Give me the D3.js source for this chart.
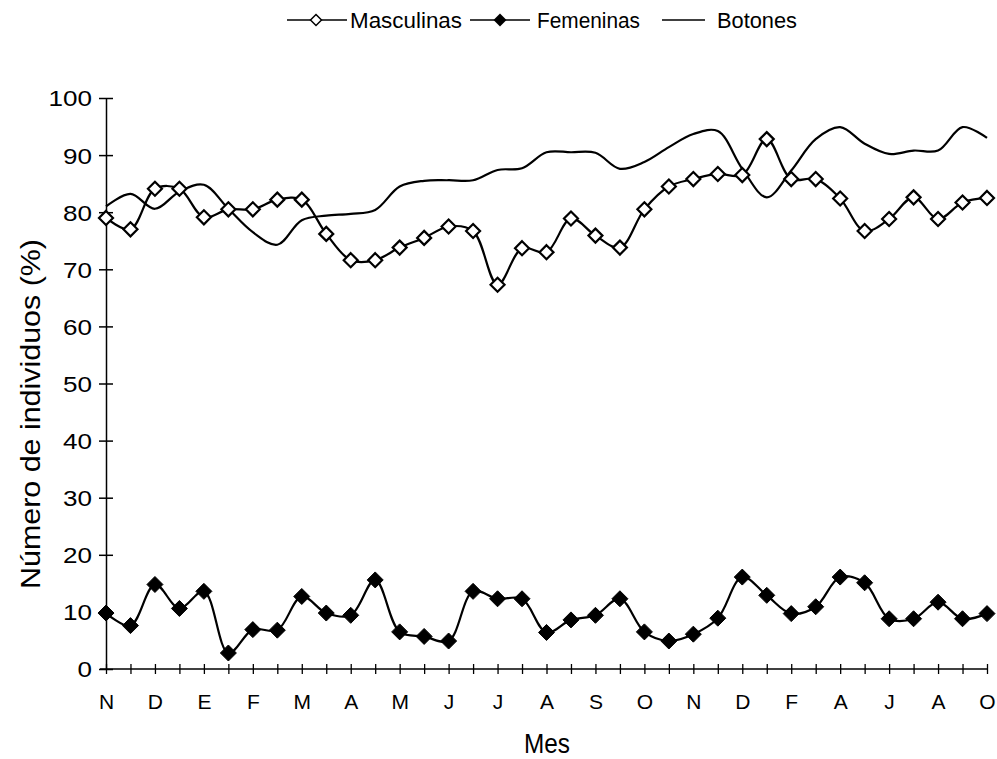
<!DOCTYPE html>
<html>
<head>
<meta charset="utf-8">
<script src="https://cdn.jsdelivr.net/npm/d3@7"></script>
<style>
body{margin:0;background:#fff;}
svg{font-family:"Liberation Sans",Arial,sans-serif;}
</style>
</head>
<body>
<svg id="chart" width="997" height="759"></svg>
<script>
// month labels shown under every second sample
const monthLabels=["N","D","E","F","M","A","M","J","J","A","S","O","N","D","F","A","J","A","O"];
const yTicks=[0,10,20,30,40,50,60,70,80,90,100];

const masculinas=[79,77,84.1,84.1,79.1,80.5,80.5,82.2,82.2,76.2,71.6,71.6,73.8,75.5,77.5,76.7,67.3,73.7,73,78.9,75.9,73.8,80.5,84.5,85.8,86.7,86.5,92.8,85.8,85.8,82.4,76.7,78.8,82.6,78.8,81.7,82.5];
const femeninas=[9.8,7.6,14.8,10.6,13.6,2.8,6.9,6.8,12.7,9.8,9.4,15.6,6.5,5.7,4.9,13.6,12.3,12.3,6.4,8.6,9.4,12.3,6.5,4.9,6.1,8.9,16.1,12.9,9.7,10.9,16.1,15.1,8.8,8.8,11.7,8.8,9.7];
const botones=[81,83.2,80.6,83.6,84.8,80.6,76.5,74.3,78.6,79.4,79.7,80.4,84.5,85.5,85.6,85.6,87.4,87.7,90.5,90.5,90.4,87.6,88.8,91.4,93.7,94.2,87.6,82.6,87.3,92.8,94.9,92,90.2,90.8,90.8,94.9,93];

const svg=d3.select("#chart");
const x=d3.scaleLinear().domain([0,masculinas.length-1]).range([106,987]);
const y=d3.scaleLinear().domain([0,100]).range([669,98]);
const idx=d3.range(masculinas.length);

// axes
const yAxis=svg.append("g").attr("transform","translate(106,0)")
    .call(d3.axisLeft(y).tickValues(yTicks).tickSizeInner(14).tickSizeOuter(0).tickFormat(d3.format("d")));
yAxis.select(".domain").attr("stroke","#000").attr("stroke-width",1.5);
yAxis.selectAll(".tick line").attr("x2",7).attr("x1",-7).attr("stroke-width",1.5);
yAxis.selectAll(".tick text").attr("x",-14).attr("dy","0.36em").attr("font-size",22).attr("fill","#000")
    .attr("textLength",d=>String(d).length*14.5).attr("lengthAdjust","spacingAndGlyphs");

const xAxis=svg.append("g").attr("transform","translate(0,669)")
    .call(d3.axisBottom(x).tickValues(idx).tickSizeInner(5).tickSizeOuter(0)
        .tickFormat(i=>i%2===0?monthLabels[i/2]:""));
xAxis.select(".domain").attr("d","M100,0H988").attr("stroke-width",1.5);
xAxis.selectAll(".tick line").attr("y1",-5).attr("y2",5).attr("stroke-width",1.3);
xAxis.selectAll(".tick text").attr("y",25).attr("font-size",21).attr("fill","#000");

// axis titles
svg.append("text").attr("x",547).attr("y",753).attr("text-anchor","middle")
    .attr("font-size",27).attr("textLength",46).attr("lengthAdjust","spacingAndGlyphs").text("Mes");
svg.append("text").attr("transform","translate(40,414) rotate(-90)").attr("text-anchor","middle")
    .attr("font-size",28).attr("textLength",350).attr("lengthAdjust","spacingAndGlyphs").text("Número de individuos (%)");

// lines
const line=d3.line().x((d,i)=>x(i)).y(d=>y(d)).curve(d3.curveCatmullRom.alpha(0.5));
[botones,masculinas,femeninas].forEach(s=>{
    svg.append("path").datum(s).attr("d",line).attr("fill","none").attr("stroke","#000").attr("stroke-width",2.2);
});

const diamond=r=>`M0,${-r}L${r},0L0,${r}L${-r},0Z`;
svg.selectAll(".m").data(masculinas).enter().append("path")
    .attr("transform",(d,i)=>`translate(${x(i)},${y(d)})`)
    .attr("d",diamond(7)).attr("fill","#fff").attr("stroke","#000").attr("stroke-width",2.2);
svg.selectAll(".f").data(femeninas).enter().append("path")
    .attr("transform",(d,i)=>`translate(${x(i)},${y(d)})`)
    .attr("d",diamond(8)).attr("fill","#000").attr("stroke","#000").attr("stroke-width",1);

// legend
const lg=svg.append("g");
lg.append("line").attr("x1",287).attr("x2",347).attr("y1",20).attr("y2",20).attr("stroke","#000").attr("stroke-width",1.5);
lg.append("path").attr("transform","translate(316,20)").attr("d",diamond(5.5)).attr("fill","#fff").attr("stroke","#000").attr("stroke-width",1.5);
lg.append("text").attr("x",350).attr("y",28).attr("font-size",22).attr("textLength",112).attr("lengthAdjust","spacingAndGlyphs").text("Masculinas");
lg.append("line").attr("x1",470).attr("x2",530).attr("y1",20).attr("y2",20).attr("stroke","#000").attr("stroke-width",1.5);
lg.append("path").attr("transform","translate(500,20)").attr("d",diamond(6.5)).attr("fill","#000");
lg.append("text").attr("x",537).attr("y",28).attr("font-size",22).attr("textLength",103).attr("lengthAdjust","spacingAndGlyphs").text("Femeninas");
lg.append("line").attr("x1",662).attr("x2",705).attr("y1",20).attr("y2",20).attr("stroke","#000").attr("stroke-width",1.5);
lg.append("text").attr("x",717).attr("y",28).attr("font-size",22).attr("textLength",80).attr("lengthAdjust","spacingAndGlyphs").text("Botones");
</script>
</body>
</html>
